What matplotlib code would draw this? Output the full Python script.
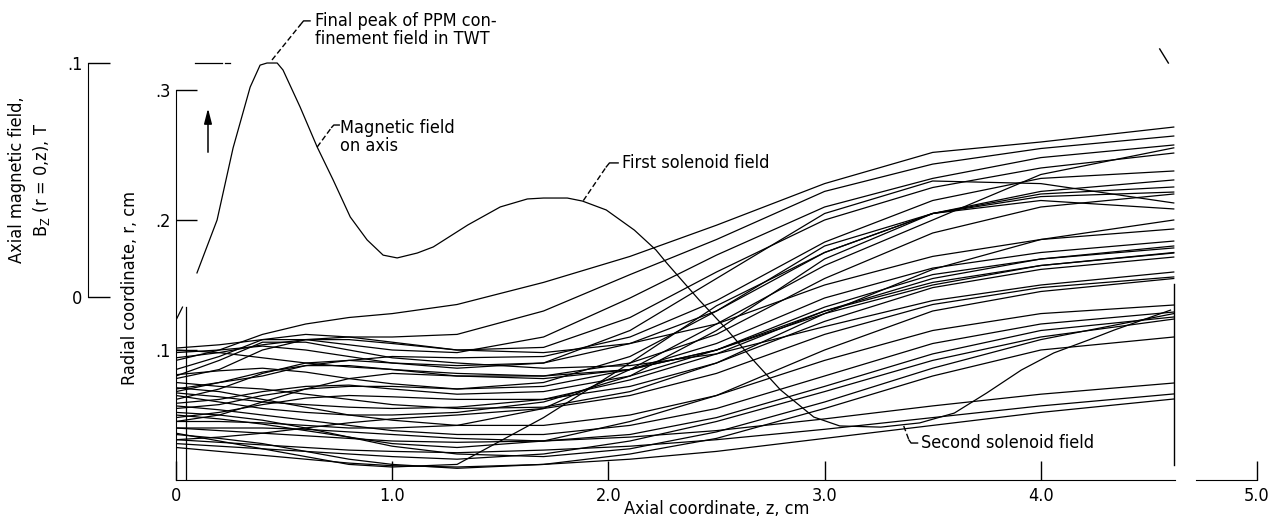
import numpy as np
import matplotlib.pyplot as plt

plt.rcParams['font.family'] = ['DejaVu Sans']
plt.rcParams['font.stretch'] = 'condensed'
plt.rcParams['font.size'] = 13

# axial field on the axis, B_z(r=0, z) in T
z_field = [0.097, 0.19, 0.264, 0.343, 0.389, 0.421, 0.468, 0.495, 0.574, 0.653,
           0.727, 0.806, 0.884, 0.958, 1.023, 1.116, 1.19, 1.35, 1.5, 1.625,
           1.70, 1.81, 1.88, 1.99, 2.12, 2.22, 2.27, 2.42, 2.55, 2.68, 2.796,
           2.95, 3.07, 3.26, 3.44, 3.6, 3.75, 3.91, 4.06, 4.22, 4.34, 4.6]
b_field = [0.0103, 0.0329, 0.0637, 0.0897, 0.0991, 0.1, 0.1, 0.097, 0.0812, 0.0641,
           0.050, 0.0342, 0.0244, 0.0179, 0.0167, 0.0188, 0.0214, 0.0308, 0.0385, 0.0419,
           0.0423, 0.0423, 0.041, 0.0372, 0.0286, 0.0201, 0.0145, -0.0013, -0.0141, -0.028, -0.0397,
           -0.0513, -0.0551, -0.0556, -0.0538, -0.0496, -0.041, -0.0312, -0.0239, -0.0184, -0.0141, -0.0056]

# electron trajectories, radius r (cm) at these axial stations
z_traj = [0.0, 0.2, 0.4, 0.6, 0.8, 1.0, 1.3, 1.7, 2.1, 2.5, 3.0, 3.5, 4.0, 4.615]

r_upper = [
    [.092, .100, .112, .120, .125, .128, .135, .152, .172, .196, .228, .252, .260, .2715],
    [.085, .095, .108, .112, .110, .110, .112, .130, .158, .185, .222, .243, .255, .2646],
    [.1015, .104, .108, .108, .104, .100, .098, .110, .140, .173, .210, .232, .248, .2577],
    [.078, .085, .100, .108, .110, .106, .100, .102, .125, .160, .200, .225, .240, .2515],
    [.070, .075, .080, .088, .092, .095, .094, .095, .110, .138, .183, .215, .232, .2377],
    [.062, .070, .082, .090, .092, .090, .088, .090, .105, .130, .175, .205, .222, .2308],
    [.098, .100, .103, .100, .095, .090, .086, .090, .115, .155, .205, .230, .228, .2131],
    [.036, .030, .024, .018, .012, .010, .012, .048, .090, .134, .175, .205, .218, .2215],
    [.055, .058, .065, .070, .072, .072, .070, .075, .095, .130, .180, .205, .215, .2085],
    [.045, .045, .044, .042, .040, .040, .042, .055, .085, .120, .165, .200, .235, .2555],
    [.065, .060, .055, .052, .050, .050, .052, .060, .080, .115, .170, .205, .220, .2254],
    [.068, .075, .083, .088, .088, .085, .080, .080, .090, .112, .155, .190, .210, .2200],
    [.075, .072, .070, .066, .062, .058, .055, .056, .068, .090, .128, .162, .185, .2000],
]

r_middle = [
    [.094, .098, .104, .108, .108, .105, .100, .098, .105, .120, .150, .172, .185, .1931],
    [.081, .084, .086, .083, .078, .074, .070, .072, .085, .105, .140, .163, .175, .1838],
    [.059, .062, .068, .072, .073, .070, .066, .068, .080, .100, .133, .158, .170, .1785],
    [.067, .064, .060, .058, .056, .055, .056, .062, .077, .097, .130, .152, .165, .1746],
    [.048, .052, .058, .063, .065, .064, .062, .062, .072, .090, .122, .148, .162, .1715],
    [.031, .033, .036, .040, .044, .047, .050, .055, .065, .082, .112, .135, .148, .1562],
    [.071, .068, .062, .056, .050, .046, .042, .042, .050, .065, .092, .115, .128, .1346],
    [.057, .054, .050, .046, .042, .038, .035, .035, .042, .055, .080, .105, .120, .1292],
    [.040, .040, .040, .039, .037, .035, .032, .030, .035, .048, .072, .097, .115, .1254],
    [.028, .026, .024, .022, .020, .018, .016, .020, .030, .045, .068, .092, .110, .1238],
    [.052, .050, .046, .040, .033, .026, .020, .018, .024, .037, .060, .086, .108, .1280],
    [.035, .032, .028, .022, .016, .012, .009, .012, .020, .032, .055, .080, .100, .1100],
    [.080, .092, .106, .106, .100, .094, .090, .086, .088, .097, .118, .138, .150, .1600],
    [.100, .098, .094, .090, .087, .085, .082, .080, .085, .100, .130, .155, .170, .1800],
    [.045, .050, .060, .070, .078, .082, .080, .078, .085, .100, .128, .150, .165, .1750],
    [.050, .047, .043, .038, .033, .028, .025, .030, .045, .065, .100, .130, .145, .1550],
]

r_lower = [
    [.040, .038, .036, .034, .032, .030, .029, .030, .033, .038, .047, .057, .066, .0746],
    [.031, .029, .027, .025, .023, .022, .021, .023, .026, .031, .039, .048, .057, .0662],
    [.025, .022, .019, .016, .013, .011, .010, .012, .016, .022, .032, .042, .052, .0623],
]

W, H = 1284, 525
fig = plt.figure(figsize=(W / 100, H / 100), dpi=100)
rect = [176 / W, 1 - 480 / H, (1257 - 176) / W, (480 - 12) / H]
ax = fig.add_axes(rect)
ax.set_xlim(0, 5)
ax.set_ylim(0, 0.36)

for r in r_upper + r_middle + r_lower:
    ax.plot(z_traj, r, color='k', lw=0.9)

# entrance and exit planes
ax.plot([0.046, 0.046], [0, 0.133], color='k', lw=0.9)
ax.plot([0.0, 0.03], [0.123, 0.133], color='k', lw=0.9)
ax.plot([4.615, 4.615], [0.0115, 0.151], color='k', lw=1.0)

ax.annotate('', xy=(0.148, 0.288), xytext=(0.148, 0.25),
            arrowprops=dict(arrowstyle='-|>,head_length=0.7,head_width=0.18',
                            color='k', lw=1.1))

for s in ['top', 'right']:
    ax.spines[s].set_visible(False)
ax.spines['left'].set_bounds(0, 0.3)
ax.spines['bottom'].set_bounds(0, 4.62)
ax.plot([4.72, 5.0], [0, 0], color='k', lw=0.8, clip_on=False)

ax.set_xticks([0, 1, 2, 3, 4, 5], ['0', '1.0', '2.0', '3.0', '4.0', '5.0'])
ax.tick_params(axis='x', direction='in', length=14, width=1, pad=5)
ax.set_yticks([0.1, 0.2, 0.3], ['.1', '.2', '.3'])
ax.tick_params(axis='y', direction='in', length=15, width=1, pad=4)

# second scale for the axial field
ax_b = ax.twinx()
ax_b.set_ylim(-0.0782, 0.1218)
for s in ['top', 'right', 'bottom']:
    ax_b.spines[s].set_visible(False)
ax_b.spines['left'].set_visible(True)
ax_b.spines['left'].set_position(('axes', (88 - 176) / (1257 - 176)))
ax_b.spines['left'].set_bounds(0, 0.1)
ax_b.yaxis.set_ticks_position('left')
ax_b.set_yticks([0, 0.1], ['0', '.1'])
ax_b.tick_params(axis='y', direction='in', length=16, width=1, pad=4)

ax_b.plot(z_field, b_field, color='k', lw=0.9)
ax_b.plot([0.09, 0.215], [0.1, 0.1], color='k', lw=0.9)
ax_b.plot([0.228, 0.25], [0.1, 0.1], color='k', lw=0.9)
ax_b.plot([4.55, 4.59], [0.106, 0.100], color='k', lw=1.0)

dash = (0, (4, 2))
ax_b.plot([0.444, 0.574], [0.1013, 0.1162], color='k', lw=1.0, ls=dash)
ax_b.plot([0.574, 0.59, 0.62], [0.1162, 0.118, 0.118], color='k', lw=1.0)
ax_b.text(0.644, 0.1141, 'Final peak of PPM con-\nfinement field in TWT',
          ha='left', va='center', linespacing=1.05)

ax_b.plot([0.653, 0.72], [0.0641, 0.0725], color='k', lw=1.0, ls=dash)
ax_b.plot([0.72, 0.73, 0.755], [0.0725, 0.0735, 0.0735], color='k', lw=1.0)
ax_b.text(0.76, 0.0684, 'Magnetic field\non axis', ha='left', va='center',
          linespacing=1.05)

ax_b.plot([1.884, 1.99], [0.0412, 0.0556], color='k', lw=1.0, ls=dash)
ax_b.plot([1.99, 2.005, 2.045], [0.0556, 0.0573, 0.0573], color='k', lw=1.0)
ax_b.text(2.065, 0.0573, 'First solenoid field', ha='left', va='center')

ax_b.plot([3.366, 3.39], [-0.0551, -0.0611], color='k', lw=1.0, ls=dash)
ax_b.plot([3.39, 3.40, 3.43], [-0.0611, -0.0624, -0.0624], color='k', lw=1.0)
ax_b.text(3.444, -0.0624, 'Second solenoid field', ha='left', va='center')

fig.text(130 / W, 1 - 288 / H, 'Radial coordinate, r, cm', rotation=90,
         ha='center', va='center')
fig.text(30 / W, 1 - 180 / H,
         'Axial magnetic field,\nB$_\\mathregular{Z}$ (r = 0,z), T',
         rotation=90, ha='center', va='center', multialignment='center',
         linespacing=1.3)
fig.text(717 / W, 1 - 509 / H, 'Axial coordinate, z, cm', ha='center', va='center')

fig.savefig('out.png', dpi=100)
